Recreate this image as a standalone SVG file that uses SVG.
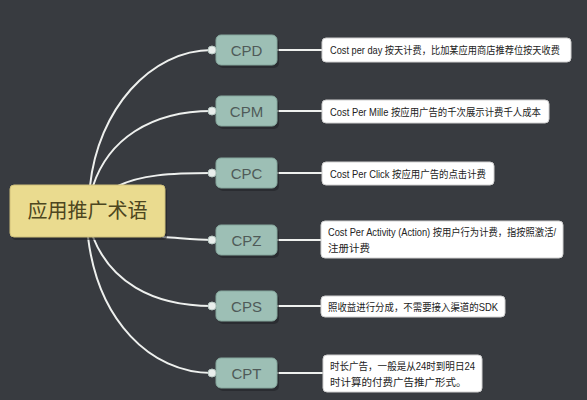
<svg xmlns="http://www.w3.org/2000/svg" width="587" height="400" viewBox="0 0 587 400">
<defs>
<style>
.bg{fill:#383b40}
.conn path{fill:none;stroke:#eef0ee;stroke-width:2;stroke-linecap:round}
.dot{fill:#e9eeec;stroke:#b9c9c4;stroke-width:1}
.sh{fill:#1f2124;opacity:.55}
.nb{fill:#9dbfb5;stroke:#86a89e;stroke-width:1}
.nt{font-family:"Liberation Sans",Arial,sans-serif;font-size:15px;fill:#4f5a58;text-anchor:middle}
.db{fill:#ffffff;stroke:#d0d0d0;stroke-width:1}
.dt{font-family:"Liberation Sans","Noto Sans CJK SC",sans-serif;font-size:10.5px;fill:#222}
.cb{fill:#eadb8f;stroke:#cfc07a;stroke-width:1}
.ct{font-family:"Noto Sans CJK SC",sans-serif;font-size:20px;fill:#4d4620;text-anchor:middle}
</style>
</defs>
<rect class="bg" x="0" y="0" width="587" height="400"/>
<g class="conn" id="connectors">
<path d="M90,186 C98,110 150,50 212,50"/>
<path d="M93,186 C108,140 150,111 212,111"/>
<path d="M118,186 C140,175 170,173 212,173"/>
<path d="M163,237 C180,238 195,240 212,240"/>
<path d="M93,237 C110,280 150,306 212,306"/>
<path d="M88,237 C98,320 150,373 212,373"/>
<path d="M277,50 H322"/>
<path d="M277,111 H322"/>
<path d="M277,173 H322"/>
<path d="M277,240 H322"/>
<path d="M277,306 H322"/>
<path d="M277,373 H322"/>
</g>
<g id="root">
<rect class="sh" x="12" y="188" width="155" height="52" rx="4"/>
<rect class="cb" x="10" y="185" width="155" height="52" rx="4"/>
<text class="ct" x="87.5" y="218">应用推广术语</text>
</g>
<g id="cpd">
<rect class="sh" x="218" y="38" width="61" height="30" rx="5"/>
<rect class="nb" x="216" y="35" width="61" height="30" rx="5"/>
<circle class="dot" cx="212" cy="50" r="4"/>
<text class="nt" x="246.5" y="55.5">CPD</text>
</g>
<g id="cpm">
<rect class="sh" x="218" y="99" width="61" height="30" rx="5"/>
<rect class="nb" x="216" y="96" width="61" height="30" rx="5"/>
<circle class="dot" cx="212" cy="111" r="4"/>
<text class="nt" x="246.5" y="116.5">CPM</text>
</g>
<g id="cpc">
<rect class="sh" x="218" y="161" width="61" height="30" rx="5"/>
<rect class="nb" x="216" y="158" width="61" height="30" rx="5"/>
<circle class="dot" cx="212" cy="173" r="4"/>
<text class="nt" x="246.5" y="178.5">CPC</text>
</g>
<g id="cpz">
<rect class="sh" x="218" y="228" width="61" height="30" rx="5"/>
<rect class="nb" x="216" y="225" width="61" height="30" rx="5"/>
<circle class="dot" cx="212" cy="240" r="4"/>
<text class="nt" x="246.5" y="245.5">CPZ</text>
</g>
<g id="cps">
<rect class="sh" x="218" y="294" width="61" height="30" rx="5"/>
<rect class="nb" x="216" y="291" width="61" height="30" rx="5"/>
<circle class="dot" cx="212" cy="306" r="4"/>
<text class="nt" x="246.5" y="311.5">CPS</text>
</g>
<g id="cpt">
<rect class="sh" x="218" y="361" width="61" height="30" rx="5"/>
<rect class="nb" x="216" y="358" width="61" height="30" rx="5"/>
<circle class="dot" cx="212" cy="373" r="4"/>
<text class="nt" x="246.5" y="378.5">CPT</text>
</g>
<g id="d-cpd">
<rect class="db" x="322" y="38" width="249" height="24" rx="4"/>
<text class="dt" x="330" y="54" style="font-size:10px" textLength="230" lengthAdjust="spacingAndGlyphs">Cost per day 按天计费，比加某应用商店推荐位按天收费</text>
</g>
<g id="d-cpm">
<rect class="db" x="322" y="100" width="227" height="23" rx="4"/>
<text class="dt" x="330" y="115.5" textLength="211" lengthAdjust="spacingAndGlyphs">Cost Per Mille 按应用广告的千次展示计费千人成本</text>
</g>
<g id="d-cpc">
<rect class="db" x="322" y="162" width="172" height="23" rx="4"/>
<text class="dt" x="330" y="177.5" textLength="156" lengthAdjust="spacingAndGlyphs">Cost Per Click 按应用广告的点击计费</text>
</g>
<g id="d-cpz">
<rect class="db" x="321" y="221" width="242" height="37" rx="4"/>
<text class="dt" x="328" y="236" textLength="228" lengthAdjust="spacingAndGlyphs">Cost Per Activity (Action) 按用户行为计费，指按照激活/</text>
<text class="dt" x="328" y="252">注册计费</text>
</g>
<g id="d-cps">
<rect class="db" x="321" y="296" width="184" height="21" rx="4"/>
<text class="dt" x="328" y="310.5" textLength="170" lengthAdjust="spacingAndGlyphs">照收益进行分成，不需要接入渠道的SDK</text>
</g>
<g id="d-cpt">
<rect class="db" x="323" y="355" width="159" height="37" rx="4"/>
<text class="dt" x="330" y="369.5" textLength="145" lengthAdjust="spacingAndGlyphs">时长广告，一般是从24时到明日24</text>
<text class="dt" x="330" y="386">时计算的付费广告推广形式。</text>
</g>
</svg>
